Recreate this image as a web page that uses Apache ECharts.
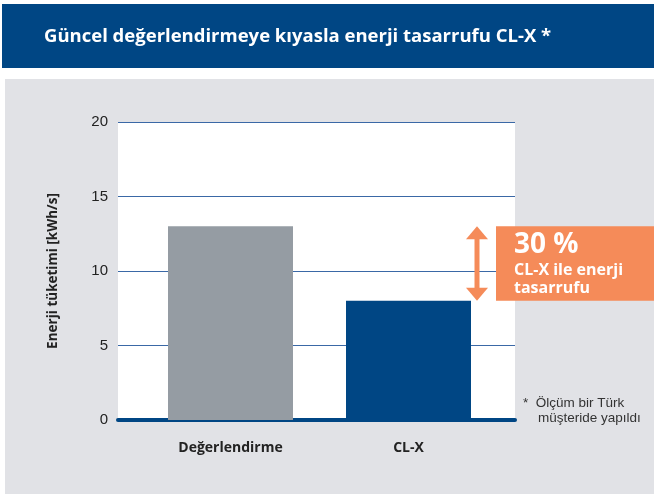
<!DOCTYPE html>
<html>
<head>
<meta charset="utf-8">
<script src="https://cdn.jsdelivr.net/npm/echarts@6/dist/echarts.min.js"></script>
<style>
  html, body { margin: 0; padding: 0; background: #fff; }
  #main { width: 654px; height: 496px; }
</style>
</head>
<body>
<div id="main"></div>
<script>
// data
var categories = ['Değerlendirme', 'CL-X'];
var consumption = [13, 8];
var yTicks = [0, 5, 10, 15, 20];
var titleText = 'Güncel değerlendirmeye kıyasla enerji tasarrufu CL-X *';
var axisName = 'Enerji tüketimi [kWh/s]';
var savingPct = '30 %';
var savingLines = ['CL-X ile enerji', 'tasarrufu'];
var footnote = ['*  Ölçüm bir Türk', '    müşteride yapıldı'];

var BLUE = '#004684';
var GREY_BAR = '#959ca3';
var ORANGE = '#f58b59';
var BG = '#e1e2e6';

var chart = echarts.init(document.getElementById('main'));

var option = {
    animation: false,
    textStyle: { fontFamily: 'Liberation Sans' },
    grid: [
        // plot frame: grid lines + base line
        { left: 118, top: 122, width: 397, height: 298, backgroundColor: '#fff', show: true, borderWidth: 0 },
        // bars
        { left: 141.5, top: 122, width: 356, height: 298 }
    ],
    xAxis: [
        {
            gridIndex: 0, type: 'category', data: categories,
            axisLine: { show: true, lineStyle: { color: BLUE, width: 4 } },
            axisTick: { show: false },
            axisLabel: { show: false }
        },
        {
            gridIndex: 1, type: 'category', data: categories,
            axisLine: { show: false }, axisTick: { show: false },
            axisLabel: {
                margin: 21, color: '#222', fontSize: 14, fontWeight: 'bold',
                fontFamily: 'Open Sans'
            }
        }
    ],
    yAxis: [
        {
            gridIndex: 0, type: 'value', min: yTicks[0], max: yTicks[yTicks.length - 1], interval: 5,
            axisLine: { show: false }, axisTick: { show: false },
            axisLabel: { margin: 10, color: '#222', fontSize: 15, fontFamily: 'Liberation Sans' },
            splitLine: { lineStyle: { color: '#3a68a6', width: 1 } },
            name: axisName, nameLocation: 'middle', nameGap: 58, nameRotate: 90,
            nameTextStyle: { color: '#222', fontSize: 13.5, fontWeight: 'bold', fontFamily: 'Open Sans' }
        },
        {
            gridIndex: 1, type: 'value', min: yTicks[0], max: yTicks[yTicks.length - 1], interval: 5,
            show: false
        }
    ],
    series: [
        {
            type: 'bar', xAxisIndex: 1, yAxisIndex: 1, barWidth: 125,
            data: consumption.map(function (v, i) {
                return { value: v, itemStyle: { color: i === 0 ? GREY_BAR : BLUE } };
            })
        }
    ]
};
chart.setOption(option);

// annotations tied to the data values
var yHigh = chart.convertToPixel({ yAxisIndex: 0 }, consumption[0]);
var yLow = chart.convertToPixel({ yAxisIndex: 0 }, consumption[1]);
var ax = 477;
var head = 13;

chart.setOption({
    graphic: [
        { type: 'rect', z: -10, shape: { x: 5, y: 79, width: 649, height: 415 }, style: { fill: BG } },
        { type: 'rect', z: 10, shape: { x: 2, y: 4, width: 652, height: 64 }, style: { fill: BLUE } },
        {
            type: 'text', z: 11, x: 44, y: 37,
            style: {
                text: titleText, fill: '#fff', font: 'bold 18.5px "Open Sans"',
                verticalAlign: 'middle'
            }
        },
        // arrow
        { type: 'rect', z: 10, shape: { x: ax - 2.5, y: yHigh + head - 1, width: 5, height: yLow - yHigh - 2 * head + 2 }, style: { fill: ORANGE } },
        { type: 'polygon', z: 10, shape: { points: [[ax, yHigh], [ax - 11, yHigh + head], [ax + 11, yHigh + head]] }, style: { fill: ORANGE } },
        { type: 'polygon', z: 10, shape: { points: [[ax, yLow], [ax - 11, yLow - head], [ax + 11, yLow - head]] }, style: { fill: ORANGE } },
        // orange box
        { type: 'rect', z: 10, shape: { x: 496, y: yHigh, width: 158, height: yLow - yHigh }, style: { fill: ORANGE } },
        {
            type: 'text', z: 11, x: 514, y: yHigh + 19,
            style: { text: savingPct, fill: '#fff', font: 'bold 28px "Open Sans"', verticalAlign: 'middle' }
        },
        {
            type: 'text', z: 11, x: 514, y: yHigh + 44,
            style: { text: savingLines[0], fill: '#fff', font: 'bold 16px "Open Sans"', verticalAlign: 'middle' }
        },
        {
            type: 'text', z: 11, x: 514, y: yHigh + 62,
            style: { text: savingLines[1], fill: '#fff', font: 'bold 16px "Open Sans"', verticalAlign: 'middle' }
        },
        // footnote
        {
            type: 'text', z: 11, x: 523, y: 396,
            style: { text: footnote.join('\n'), fill: '#333', font: '13.5px "Liberation Sans"', lineHeight: 15 }
        }
    ]
});
</script>
</body>
</html>
